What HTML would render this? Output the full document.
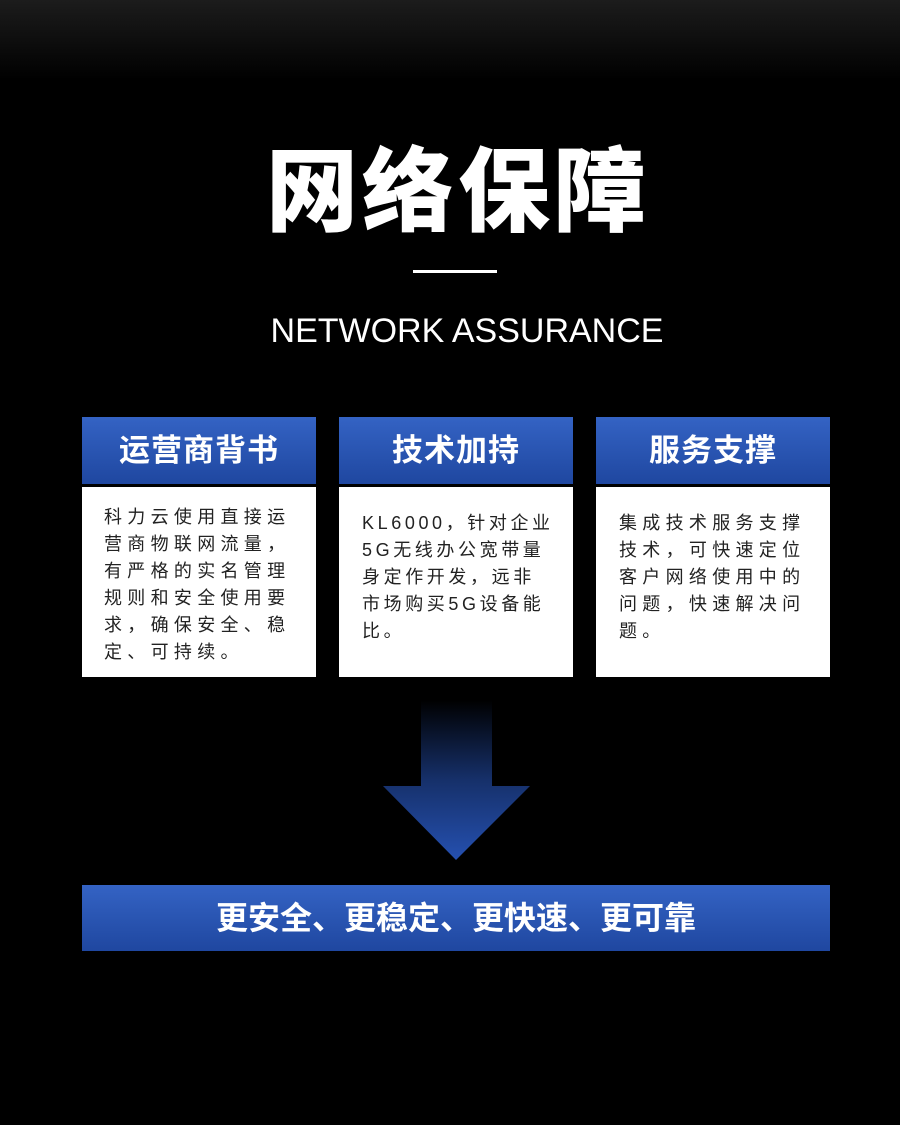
<!DOCTYPE html>
<html><head><meta charset="utf-8"><style>
html,body{margin:0;padding:0}
body{width:900px;height:1125px;background:#000;position:relative;overflow:hidden;font-family:"Liberation Sans","Noto Sans CJK SC",sans-serif}
.topg{position:absolute;left:0;top:0;width:900px;height:80px;background:linear-gradient(#1c1c1c,#000)}
.title{position:absolute;top:133px;left:0;width:916px;text-align:center;color:#fff;font-size:92px;font-weight:900;letter-spacing:4px;line-height:120px}
.line{position:absolute;left:413px;top:270px;width:84px;height:3px;background:#fff}
.en{position:absolute;top:309px;left:0;width:934px;text-align:center;color:#fff;font-size:34px;line-height:44px;font-weight:300}
.h{position:absolute;top:417px;width:234px;height:67px;background:linear-gradient(#3463c4,#1f47a0);color:#fff;font-size:31px;font-weight:700;text-align:center;line-height:67px;letter-spacing:1px}
.b{position:absolute;top:487px;width:234px;height:190px;background:#fff}
.t{position:absolute;color:#222;font-size:18px;line-height:27px;letter-spacing:5.3px;width:220px;white-space:nowrap}
.bar{position:absolute;left:82px;top:885px;width:748px;height:66px;background:linear-gradient(#3463c4,#1f47a0);color:#fff;font-size:32px;font-weight:700;text-align:center;line-height:66px}
</style></head><body>
<div class="topg"></div>
<div class="title">网络保障</div>
<div class="line"></div>
<div class="en">NETWORK ASSURANCE</div>
<div class="h" style="left:82px">运营商背书</div>
<div class="h" style="left:339px">技术加持</div>
<div class="h" style="left:596px">服务支撑</div>
<div class="b" style="left:82px"></div>
<div class="b" style="left:339px"></div>
<div class="b" style="left:596px"></div>
<div class="t" style="left:104px;top:504px">科力云使用直接运<br>营商物联网流量，<br>有严格的实名管理<br>规则和安全使用要<br>求，确保安全、稳<br>定、可持续。</div>
<div class="t" style="left:362px;top:510px;letter-spacing:3.6px">KL6000，针对企业<br>5G无线办公宽带量<br>身定作开发，远非<br>市场购买5G设备能<br>比。</div>
<div class="t" style="left:619px;top:510px">集成技术服务支撑<br>技术，可快速定位<br>客户网络使用中的<br>问题，快速解决问<br>题。</div>
<svg style="position:absolute;left:0;top:0" width="900" height="1125">
<defs><linearGradient id="g" x1="0" y1="700" x2="0" y2="860" gradientUnits="userSpaceOnUse"><stop offset="0" stop-color="#000"/><stop offset="0.5" stop-color="#16306a"/><stop offset="1" stop-color="#2550b0"/></linearGradient></defs>
<polygon points="421,700 492,700 492,786 530,786 456,860 383,786 421,786" fill="url(#g)"/>
</svg>
<div class="bar">更安全、更稳定、更快速、更可靠</div>
</body></html>
